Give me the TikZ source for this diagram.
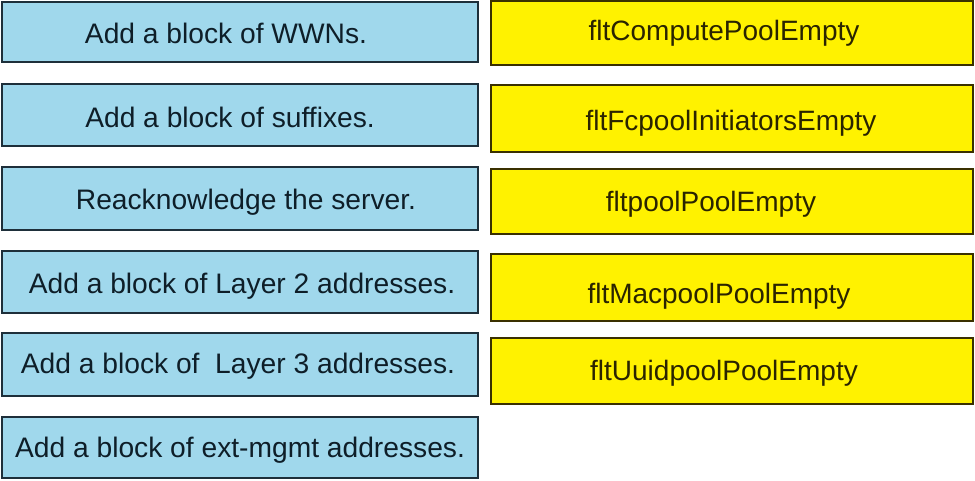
\documentclass[tikz,border=0pt]{standalone}
\usepackage{fontspec}
\setmainfont{Liberation Sans}
\definecolor{bluefill}{HTML}{A0D8EC}
\definecolor{blueline}{HTML}{1E2F3A}
\definecolor{bluetext}{HTML}{0E1E28}
\definecolor{yelfill}{HTML}{FFF200}
\definecolor{yelline}{HTML}{3A3000}
\definecolor{yeltext}{HTML}{2A2400}
\begin{document}
\begin{tikzpicture}[x=1pt,y=-1pt,
  bluebox/.style={draw=blueline,fill=bluefill,line width=1.8pt},
  yelbox/.style={draw=yelline,fill=yelfill,line width=1.8pt},
  bluelabel/.style={text=bluetext,font=\fontsize{28.2}{32}\selectfont,inner sep=0pt,anchor=base},
  yellabel/.style={text=yeltext,font=\fontsize{28}{32}\selectfont,inner sep=0pt,anchor=base}]
\useasboundingbox[fill=white] (0,0) rectangle (975,480);
% left column
\draw[bluebox] (2,2) rectangle (478,62);
\node[bluelabel] (l1) at (226,43) {Add a block of WWNs.};
\draw[bluebox] (2,84) rectangle (478,146);
\node[bluelabel] (l2) at (230,127) {Add a block of suffixes.};
\draw[bluebox] (2,167) rectangle (478,230);
\node[bluelabel] (l3) at (246,209) {Reacknowledge the server.};
\draw[bluebox] (2,251) rectangle (478,313);
\node[bluelabel] (l4) at (242,293) {Add a block of Layer 2 addresses.};
\draw[bluebox] (2,333) rectangle (478,396);
\node[bluelabel] (l5) at (238,373) {Add a block of\ \ Layer 3 addresses.};
\draw[bluebox] (2,417) rectangle (478,478);
\node[bluelabel] (l6) at (240,457) {Add a block of ext-mgmt addresses.};
% right column
\draw[yelbox] (491,1) rectangle (973,65);
\node[yellabel] (r1) at (724,40) {fltComputePoolEmpty};
\draw[yelbox] (491,85) rectangle (973,152);
\node[yellabel] (r2) at (731,130) {fltFcpoolInitiatorsEmpty};
\draw[yelbox] (491,169) rectangle (973,234);
\node[yellabel] (r3) at (711,211) {fltpoolPoolEmpty};
\draw[yelbox] (491,254) rectangle (973,321);
\node[yellabel] (r4) at (719,303) {fltMacpoolPoolEmpty};
\draw[yelbox] (491,338) rectangle (973,404);
\node[yellabel] (r5) at (724,380) {fltUuidpoolPoolEmpty};
\end{tikzpicture}
\end{document}
